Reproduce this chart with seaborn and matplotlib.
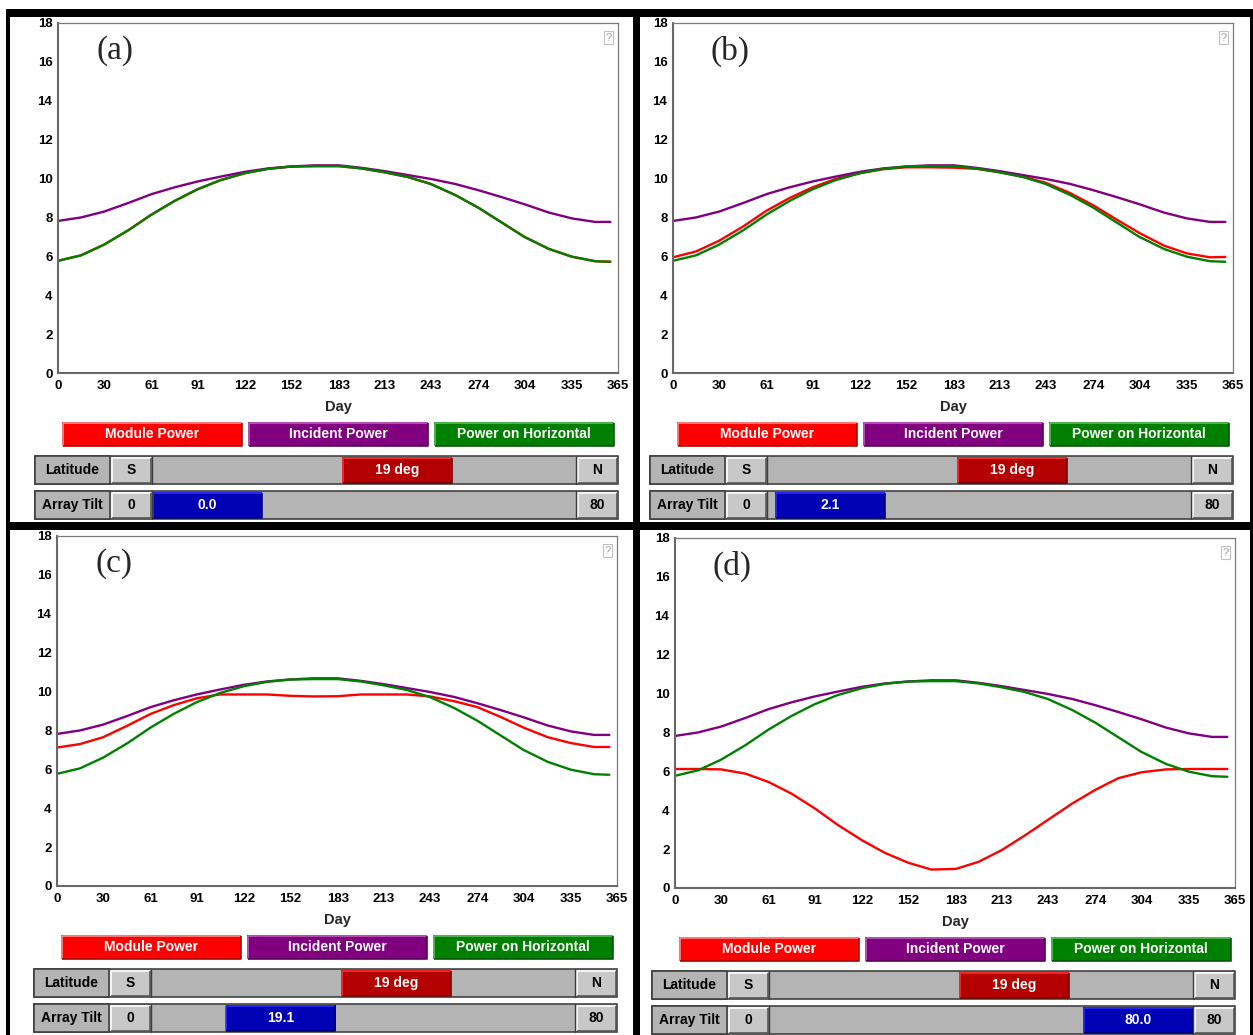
import matplotlib
matplotlib.use("Agg")
import matplotlib.pyplot as plt
from matplotlib.patches import Rectangle
import seaborn as sns

# ---- data -------------------------------------------------------------
days = [0, 15, 30, 46, 61, 76, 91, 106, 122, 137, 152, 167, 183,
        198, 213, 228, 243, 259, 274, 289, 304, 320, 335, 350, 360]

incident_power = [7.82, 8.00, 8.30, 8.75, 9.20, 9.55, 9.85, 10.10, 10.35, 10.52,
                  10.62, 10.68, 10.68, 10.55, 10.38, 10.18, 9.98, 9.72, 9.40,
                  9.05, 8.68, 8.25, 7.95, 7.77, 7.77]

horizontal_power = [5.77, 6.05, 6.60, 7.35, 8.15, 8.85, 9.45, 9.92, 10.28, 10.50,
                    10.62, 10.64, 10.64, 10.52, 10.32, 10.08, 9.72, 9.15, 8.50,
                    7.75, 7.00, 6.38, 5.98, 5.75, 5.72]

# module power for each array tilt (tilt 0 lies on the horizontal curve)
module_tilt_0 = horizontal_power
module_tilt_2 = [5.95, 6.25, 6.80, 7.55, 8.35, 9.00, 9.55, 9.98, 10.28, 10.48,
                 10.58, 10.58, 10.56, 10.50, 10.32, 10.10, 9.78, 9.25, 8.62,
                 7.90, 7.20, 6.55, 6.15, 5.95, 5.97]
module_tilt_19 = [7.12, 7.30, 7.65, 8.25, 8.85, 9.30, 9.65, 9.85, 9.85, 9.85,
                  9.78, 9.75, 9.76, 9.85, 9.85, 9.85, 9.75, 9.50, 9.20,
                  8.70, 8.15, 7.65, 7.35, 7.15, 7.15]
module_tilt_80 = [6.12, 6.12, 6.10, 5.88, 5.45, 4.85, 4.10, 3.25, 2.45, 1.80,
                  1.30, 0.95, 0.98, 1.35, 1.95, 2.70, 3.50, 4.35, 5.05,
                  5.65, 5.95, 6.10, 6.12, 6.12, 6.12]

day_ticks = [0, 30, 61, 91, 122, 152, 183, 213, 243, 274, 304, 335, 365]
power_ticks = [0, 2, 4, 6, 8, 10, 12, 14, 16, 18]

panel_labels = ["(a)", "(b)", "(c)", "(d)"]
tilt_values = [0.0, 2.1, 19.1, 80.0]
module_series = [module_tilt_0, module_tilt_2, module_tilt_19, module_tilt_80]
latitude = 19
legend_names = ["Module Power", "Incident Power", "Power on Horizontal"]

# ---- style ------------------------------------------------------------
sns.set_style("white")
plt.rcParams["font.family"] = ["Liberation Sans", "DejaVu Sans"]

RED, PURPLE, GREEN = "#ff0000", "#800080", "#008000"

W, H = 1253, 1035
fig = plt.figure(figsize=(W / 100, H / 100), dpi=100)
fig.patch.set_facecolor("white")

# overlay in pixel units (origin top-left) for frames and controls
ui = fig.add_axes([0, 0, 1, 1], zorder=0)
ui.set_xlim(0, W)
ui.set_ylim(H, 0)
ui.axis("off")

PX = 0.72  # one pixel in points


def box(x0, y0, x1, y1, fc, ec="none", lw=0.0, z=1):
    ui.add_patch(Rectangle((x0, y0), x1 - x0, y1 - y0, facecolor=fc,
                           edgecolor=ec, linewidth=lw, zorder=z))


def bevel(x0, y0, x1, y1, fc, light, dark, z=2):
    box(x0, y0, x1, y1, fc, z=z)
    ui.plot([x0 + 0.5, x0 + 0.5, x1 - 0.5], [y1 - 0.5, y0 + 0.5, y0 + 0.5],
            color=light, lw=1.6 * PX, zorder=z + 0.1, solid_capstyle="butt")
    ui.plot([x0 + 0.5, x1 - 0.5, x1 - 0.5], [y1 - 0.5, y1 - 0.5, y0 + 0.5],
            color=dark, lw=1.6 * PX, zorder=z + 0.1, solid_capstyle="butt")


def label(x, y, s, color="black", size=10):
    ui.text(x, y, s, ha="center", va="center", color=color, fontsize=size,
            fontweight="bold", zorder=5)


# black frame lines
box(6, 9, 1253, 17, "black", z=10)
box(6, 9, 10, H, "black", z=10)
box(633, 9, 640, H, "black", z=10)
box(1250, 9, 1253, H, "black", z=10)
box(6, 522, 1253, 530, "black", z=10)

offsets = [(0, 0), (615, 0), (-1, 513), (617, 515)]
AX_W, AX_H = 560, 350

for (dx, dy), tag, tilt, module in zip(offsets, panel_labels, tilt_values,
                                       module_series):
    # ---- chart ----
    ax = fig.add_axes([(58 + dx) / W, 1 - (373 + dy) / H, AX_W / W, AX_H / H],
                      zorder=2)
    ax.set_facecolor("white")
    sns.lineplot(x=days, y=module, color=RED, lw=1.7, ax=ax)
    sns.lineplot(x=days, y=incident_power, color=PURPLE, lw=1.7, ax=ax)
    sns.lineplot(x=days, y=horizontal_power, color=GREEN, lw=1.7, ax=ax)
    ax.set_xlim(0, 365)
    ax.set_ylim(0, 18)
    ax.set_xticks(day_ticks)
    ax.set_yticks(power_ticks)
    ax.set_xticklabels([str(t) for t in day_ticks], fontweight="bold")
    ax.set_yticklabels([str(t) for t in power_ticks], fontweight="bold")
    ax.set_xlabel("Day", fontsize=10.5, fontweight="bold", labelpad=6)
    ax.set_ylabel("")
    for side in ("left", "bottom"):
        ax.spines[side].set_color("#686868")
        ax.spines[side].set_linewidth(1.5)
    for side in ("top", "right"):
        ax.spines[side].set_color("#7a7a7a")
        ax.spines[side].set_linewidth(0.9)
    ax.tick_params(direction="in", length=6, width=1.1, color="#686868",
                   labelsize=9.5, labelcolor="black")
    ax.tick_params(axis="y", pad=4)
    ax.tick_params(axis="x", pad=5)

    # help icon in the corner
    ax.text(0.983, 0.972, "?", transform=ax.transAxes, ha="center", va="top",
            fontsize=8, color="#a0a0a0",
            bbox=dict(boxstyle="square,pad=0.12", fc="white", ec="#c0c0c0",
                      lw=0.8))

    # panel tag, placed inside the plotting area
    ax.text(57 / AX_W, 1 - 28 / AX_H, tag, transform=ax.transAxes,
            ha="center", va="center", fontsize=24,
            family=["Liberation Serif", "DejaVu Serif"], zorder=6)

    # ---- legend buttons ----
    for (x0, x1), name, col, lt, dk in zip(
            [(62, 242), (248, 428), (434, 614)], legend_names,
            [RED, PURPLE, GREEN],
            ["#ff9090", "#c060c0", "#60c060"],
            ["#a00000", "#500050", "#005000"]):
        bevel(x0 + dx, 422 + dy, x1 + dx, 446 + dy, col, lt, dk)
        label((x0 + x1) / 2 + dx, 434 + dy, name, color="white")

    # ---- slider rows ----
    rows = [(456, 484, "Latitude", "S", "N",
             152 + (latitude + 90) / 180 * (424 - 110), f"{latitude} deg",
             "#b40000", "#ff3030", "#700000"),
            (491, 519, "Array Tilt", "0", "80",
             152 + tilt / 80 * (424 - 110), f"{tilt:.1f}",
             "#0000b4", "#3030ff", "#000070")]
    for (y0, y1, name, lo, hi, thumb, txt, tc, tl, td) in rows:
        y0 += dy
        y1 += dy
        box(35 + dx, y0, 618 + dx, y1, "#b4b4b4", ec="#3c3c3c", lw=1.6 * PX)
        box(35 + dx, y0, 110 + dx, y1, "#b4b4b4", ec="#3c3c3c", lw=1.6 * PX)
        label(72.5 + dx, (y0 + y1) / 2, name)
        bevel(111 + dx, y0 + 1, 151 + dx, y1 - 1, "#c8c8c8", "white", "#555555")
        label(131 + dx, (y0 + y1) / 2, lo)
        ui.plot([152 + dx, 152 + dx], [y0, y1], color="#3c3c3c", lw=1.4 * PX,
                zorder=3)
        ui.plot([576 + dx, 576 + dx], [y0, y1], color="#3c3c3c", lw=1.4 * PX,
                zorder=3)
        bevel(577 + dx, y0 + 1, 617 + dx, y1 - 1, "#c8c8c8", "white", "#555555")
        label(597 + dx, (y0 + y1) / 2, hi)
        bevel(thumb + dx, y0 + 1, thumb + 110 + dx, y1 - 1, tc, tl, td)
        label(thumb + 55 + dx, (y0 + y1) / 2, txt, color="white")

fig.savefig("out.png", dpi=100, facecolor="white")
